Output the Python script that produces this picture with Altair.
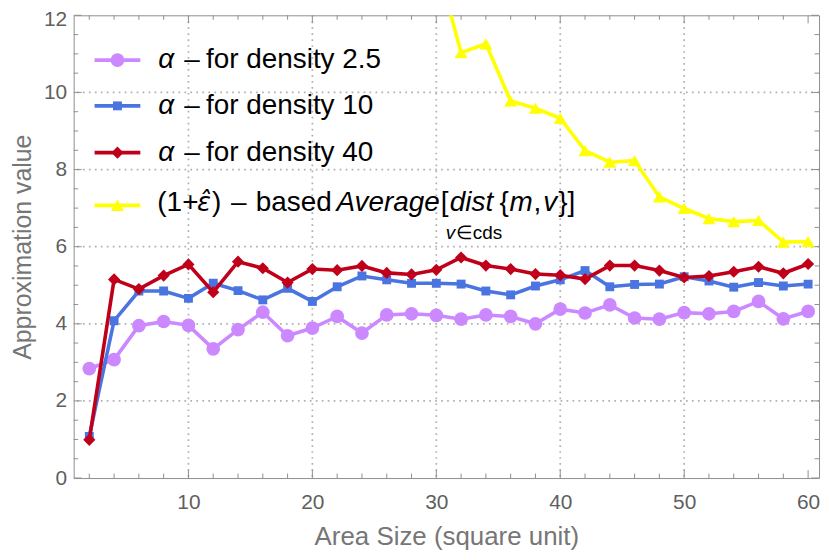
import altair as alt
import pandas as pd

# ---------------- data ----------------
area = list(range(2, 61, 2))
alpha_d25 = [2.84, 3.07, 3.95, 4.06, 3.96, 3.35, 3.85, 4.30, 3.69, 3.89,
             4.19, 3.76, 4.23, 4.26, 4.22, 4.12, 4.23, 4.19, 4.00, 4.38,
             4.28, 4.49, 4.15, 4.12, 4.29, 4.26, 4.32, 4.58, 4.13, 4.32]
alpha_d10 = [1.08, 4.08, 4.85, 4.85, 4.66, 5.05, 4.86, 4.62, 4.92, 4.58,
             4.96, 5.24, 5.14, 5.05, 5.05, 5.03, 4.85, 4.75, 4.98, 5.14,
             5.38, 4.96, 5.02, 5.03, 5.22, 5.11, 4.95, 5.07, 4.98, 5.03]
alpha_d40 = [0.99, 5.15, 4.90, 5.25, 5.54, 4.82, 5.61, 5.44, 5.07, 5.42,
             5.39, 5.50, 5.32, 5.28, 5.40, 5.72, 5.51, 5.42, 5.29, 5.26,
             5.16, 5.51, 5.51, 5.38, 5.20, 5.24, 5.35, 5.48, 5.31, 5.55]
eps_area = list(range(30, 61, 2))
eps_avg = [13.4, 11.03, 11.26, 9.78, 9.59, 9.33, 8.49, 8.19, 8.23, 7.29,
           6.99, 6.73, 6.65, 6.68, 6.12, 6.13]

grid_x = [10, 20, 30, 40, 50]
grid_y = [2, 4, 6, 8, 10]
x_major = [10, 20, 30, 40, 50, 60]
x_minor = [v for v in range(2, 61, 2) if v % 10]
y_major = [0, 2, 4, 6, 8, 10, 12]
y_minor = [v / 2 for v in range(1, 24) if v % 4]

# ---------------- style ----------------
FONT = "Liberation Sans"
W, H = 749, 465
FRAME = "#8f8f8f"
C_PURPLE = "#cc88ff"
C_BLUE = "#4a74e0"
C_RED = "#c0001a"
C_YELLOW = "#ffff00"

xs = alt.Scale(domain=[0.74, 60.88], nice=False, zero=False)
ys = alt.Scale(domain=[0, 12], nice=False, zero=False)

xaxis = alt.Axis(values=x_major, format="d", title="Area Size (square unit)",
                 grid=False, ticks=False, tickSize=0, domain=False,
                 labelFlush=False, labelPadding=14, labelFontSize=21,
                 labelColor="#5f5f5f", labelFont=FONT, labelBaseline="top",
                 titleFont=FONT, titleFontSize=26, titleFontWeight="normal",
                 titleColor="#767676", titleX=W / 2, titleY=59,
                 titleBaseline="middle")
yaxis = alt.Axis(values=y_major, format="d", title="Approximation value",
                 grid=False, ticks=False, tickSize=0, domain=False,
                 labelFlush=False, labelPadding=7, labelFontSize=21,
                 labelOffset=alt.condition("datum.value == 12", alt.value(4), alt.value(0)),
                 labelColor="#5f5f5f", labelFont=FONT,
                 titleFont=FONT, titleFontSize=25, titleFontWeight="normal",
                 titleColor="#767676", titleX=-51, titleY=H / 2,
                 titleBaseline="middle")

X = alt.X("x:Q", scale=xs, axis=xaxis)
Y = alt.Y("y:Q", scale=ys, axis=yaxis)

layers = []

# grid lines (dotted)
grid_style = dict(color="#b0b0b0", strokeWidth=1.7, strokeDash=[1.7, 4.3])
layers.append(alt.Chart(pd.DataFrame({"x": grid_x})).mark_rule(**grid_style)
              .encode(x=X))
layers.append(alt.Chart(pd.DataFrame({"y": grid_y})).mark_rule(**grid_style)
              .encode(y=Y))

# inward ticks on all four sides
def xticks(vals, length):
    d = pd.DataFrame({"x": vals})
    b = alt.Chart(d).mark_rule(color=FRAME, strokeWidth=1).encode(
        x=X, y=alt.value(H), y2=alt.value(H - length))
    t = alt.Chart(d).mark_rule(color=FRAME, strokeWidth=1).encode(
        x=X, y=alt.value(0), y2=alt.value(length))
    return [b, t]

def yticks(vals, length):
    d = pd.DataFrame({"y": vals})
    l = alt.Chart(d).mark_rule(color=FRAME, strokeWidth=1).encode(
        y=Y, x=alt.value(0), x2=alt.value(length))
    r = alt.Chart(d).mark_rule(color=FRAME, strokeWidth=1).encode(
        y=Y, x=alt.value(W), x2=alt.value(W - length))
    return [l, r]

layers += xticks(x_major, 8) + xticks(x_minor, 4.5)
layers += yticks(y_major, 8) + yticks(y_minor, 4.5)

# series
SZ = {"circle": 190, "square": 80, "diamond": 150, "triangle-up": 170}

def series(xv, yv, color, shape):
    d = pd.DataFrame({"x": xv, "y": yv})
    ln = alt.Chart(d).mark_line(color=color, strokeWidth=3.6, clip=True).encode(x=X, y=Y)
    pt = alt.Chart(d).mark_point(color=color, filled=True, opacity=1, shape=shape,
                                 size=SZ[shape], strokeWidth=0, clip=True).encode(x=X, y=Y)
    return [ln, pt]

layers += series(area, alpha_d25, C_PURPLE, "circle")
layers += series(area, alpha_d10, C_BLUE, "square")
layers += series(area, alpha_d40, C_RED, "diamond")
layers += series(eps_area, eps_avg, C_YELLOW, "triangle-up")

# ---------------- manual legend ----------------
dummy = pd.DataFrame({"k": [0]})
leg_rows = [
    (45, C_PURPLE, "circle"),
    (91, C_BLUE, "square"),
    (138, C_RED, "diamond"),
    (191, C_YELLOW, "triangle-up"),
]
for (ry, col, shp) in leg_rows:
    layers.append(alt.Chart(dummy).mark_rule(color=col, strokeWidth=3.6).encode(
        x=alt.value(21), x2=alt.value(67), y=alt.value(ry)))
    layers.append(alt.Chart(dummy).mark_point(color=col, filled=True, opacity=1,
                                              shape=shp, size=SZ[shp], strokeWidth=0).encode(
        x=alt.value(44), y=alt.value(ry)))

def txt(s, px, py, italic=False, size=28, align="left", font=FONT):
    return alt.Chart(dummy).mark_text(
        text=s, align=align, baseline="middle", font=font, fontSize=size,
        fontStyle="italic" if italic else "normal", color="#000000").encode(
        x=alt.value(px), y=alt.value(py))

OX = 74  # plot left edge in page pixels
for ry, dens in [(45, "2.5"), (91, "10"), (138, "40")]:
    layers.append(txt("α", 159 - OX, ry, italic=True))
    layers.append(txt("–", 185 - OX, ry))
    layers.append(txt("for density " + dens, 207 - OX, ry))

r4 = 189
frags = [
    ("(1", 158, False), ("+", 183, False), (")", 213, False),
    ("–", 232, False), ("based", 257, False),
    ("Average", 338, True), ("[", 443, False), ("dist", 452, True),
    ("{", 502, False), ("m", 512, True), (",", 536, False),
    ("v", 546, True), ("}]", 561, False),
]
for s, px, it in frags:
    layers.append(txt(s, px - OX, r4, italic=it))
layers.append(txt("ε̂", 198 - OX, r4, italic=True, size=26, font="DejaVu Sans"))
layers.append(txt("v", 448 - OX, 219, italic=True, size=19))
layers.append(txt("∈cds", 458 - OX, 219, size=19))

chart = alt.layer(*layers).properties(
    width=W, height=H,
    autosize=alt.AutoSizeParams(type="none"),
    padding={"left": 66, "top": 6, "right": 3, "bottom": 78},
).configure_view(stroke=FRAME, strokeWidth=1)

chart.save("out.html", embed_options={"renderer": "svg", "actions": False})
